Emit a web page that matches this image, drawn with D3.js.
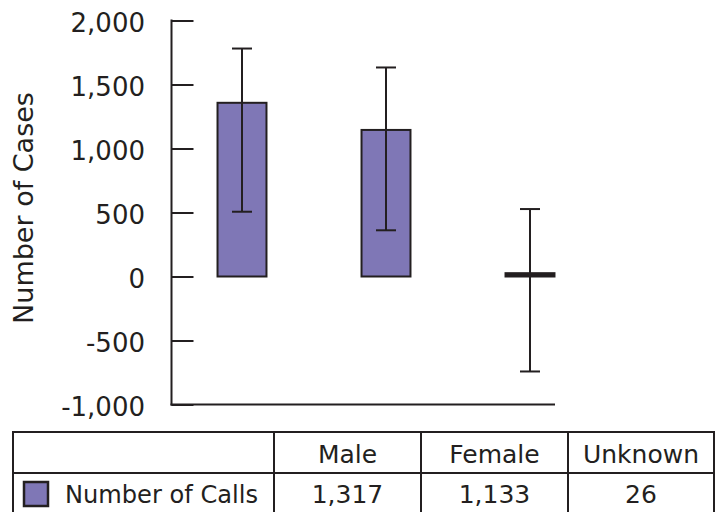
<!DOCTYPE html>
<html>
<head>
<meta charset="utf-8">
<script src="https://cdn.jsdelivr.net/npm/d3@7"></script>
<style>
  body { margin: 0; background: #fff; }
  text { font-family: "DejaVu Sans", Verdana, sans-serif; fill: #231f20; }
</style>
</head>
<body>
<svg width="719" height="512"></svg>
<script>
var categories = ["Male", "Female", "Unknown"];
var barValues  = [1357, 1145, 26];
var errLow     = [506, 361, -742];
var errHigh    = [1781, 1633, 527];
var tableVals  = ["1,317", "1,133", "26"];
var yTicks     = [-1000, -500, 0, 500, 1000, 1500, 2000];
var seriesName = "Number of Calls";

var svg = d3.select("svg");
var ink = "#231f20",
    barFill = "#7f77b6";

var y = d3.scaleLinear().domain([-1000, 2000]).range([404.5, 20.5]);
var x = d3.scaleBand().domain(categories).range([170, 602])
    .paddingInner(0.66).paddingOuter(0.33);

// y axis, ticks pointing inward
var yAxis = d3.axisRight(y).tickValues(yTicks).tickSize(22).tickFormat("");
var ag = svg.append("g").attr("transform", "translate(171.5,0)").call(yAxis);
ag.select(".domain").remove();
ag.selectAll(".tick line").attr("stroke", ink).attr("stroke-width", 2);

svg.append("line")
    .attr("x1", 171.5).attr("x2", 171.5)
    .attr("y1", y(2000) - 1).attr("y2", y(-1000) + 1)
    .attr("stroke", ink).attr("stroke-width", 2);
svg.append("line")
    .attr("x1", 170.5).attr("x2", 555)
    .attr("y1", y(-1000)).attr("y2", y(-1000))
    .attr("stroke", ink).attr("stroke-width", 2);

var fmt = d3.format(",");
svg.append("g").selectAll("text").data(yTicks).join("text")
    .attr("x", 145).attr("y", d => y(d))
    .attr("dy", "0.45em")
    .attr("text-anchor", "end")
    .attr("font-size", 26)
    .text(d => fmt(d).replace("\u2212", "-"));

svg.append("text")
    .attr("transform", "translate(33,208) rotate(-90)")
    .attr("text-anchor", "middle")
    .attr("font-size", 27)
    .text("Number of Cases");

// bars (a near-zero bar shows only as its thick outline)
svg.append("g").selectAll("rect").data(categories).join("rect")
    .attr("x", d => x(d))
    .attr("width", x.bandwidth())
    .attr("y", (d, i) => y(Math.max(0, barValues[i])))
    .attr("height", (d, i) => Math.abs(y(barValues[i]) - y(0)))
    .attr("fill", (d, i) => Math.abs(y(barValues[i]) - y(0)) < 4 ? ink : barFill)
    .attr("stroke", ink).attr("stroke-width", 2);

// error bars
var eg = svg.append("g").attr("stroke", ink).attr("stroke-width", 2);
categories.forEach(function (c, i) {
  var cx = x(c) + x.bandwidth() / 2;
  eg.append("line").attr("x1", cx).attr("x2", cx)
      .attr("y1", y(errHigh[i])).attr("y2", y(errLow[i]));
  eg.append("line").attr("x1", cx - 10).attr("x2", cx + 10)
      .attr("y1", y(errHigh[i])).attr("y2", y(errHigh[i]));
  eg.append("line").attr("x1", cx - 10).attr("x2", cx + 10)
      .attr("y1", y(errLow[i])).attr("y2", y(errLow[i]));
});

// data table
var colEdges = [13, 274, 421, 568, 714];
var rowEdges = [432, 473, 514];
var tg = svg.append("g");
tg.append("rect")
    .attr("x", colEdges[0]).attr("y", rowEdges[0])
    .attr("width", colEdges[4] - colEdges[0])
    .attr("height", rowEdges[2] - rowEdges[0])
    .attr("fill", "none").attr("stroke", ink).attr("stroke-width", 2);
colEdges.slice(1, 4).forEach(function (cx) {
  tg.append("line").attr("x1", cx).attr("x2", cx)
      .attr("y1", rowEdges[0]).attr("y2", rowEdges[2])
      .attr("stroke", ink).attr("stroke-width", 2);
});
tg.append("line").attr("x1", colEdges[0]).attr("x2", colEdges[4])
    .attr("y1", rowEdges[1]).attr("y2", rowEdges[1])
    .attr("stroke", ink).attr("stroke-width", 2);

categories.forEach(function (c, i) {
  var cx = (colEdges[i + 1] + colEdges[i + 2]) / 2;
  tg.append("text").attr("x", cx).attr("y", 463)
      .attr("text-anchor", "middle").attr("font-size", 25).text(c);
  tg.append("text").attr("x", cx).attr("y", 503)
      .attr("text-anchor", "middle").attr("font-size", 25).text(tableVals[i]);
});

tg.append("rect")
    .attr("x", 24).attr("y", 482).attr("width", 24).attr("height", 24)
    .attr("fill", barFill).attr("stroke", ink).attr("stroke-width", 2.5);
tg.append("text")
    .attr("x", 65).attr("y", 503)
    .attr("font-size", 25)
    .attr("textLength", 193).attr("lengthAdjust", "spacingAndGlyphs")
    .text(seriesName);
</script>
</body>
</html>
